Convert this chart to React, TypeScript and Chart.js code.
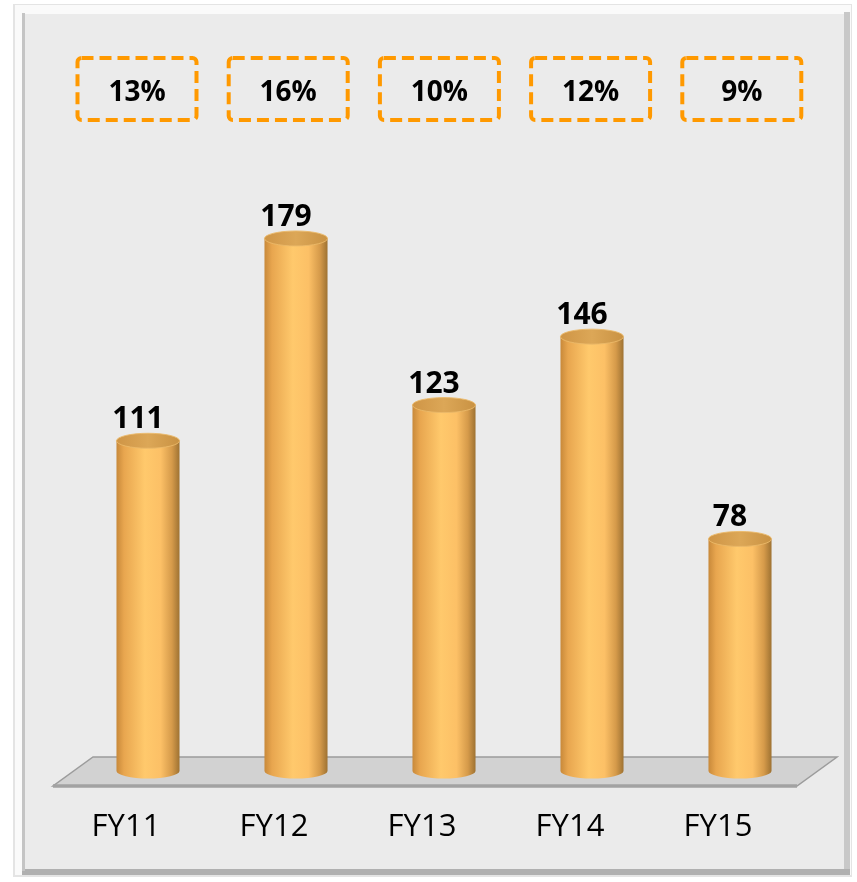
import React, { useEffect, useRef } from "react";
import { Chart, registerables } from "chart.js";

Chart.register(...registerables);

const categories = ["FY11", "FY12", "FY13", "FY14", "FY15"];
const values = [111, 179, 123, 146, 78];
const growthLabels = ["13%", "16%", "10%", "12%", "9%"];

const FONT = "'Open Sans', 'DejaVu Sans', sans-serif";
const RY = 7.5;

const panelPlugin = {
  id: "panel",
  beforeDraw(chart: any) {
    const ctx = chart.ctx;
    const W = chart.width;
    const H = chart.height;
    ctx.save();
    ctx.fillStyle = "#ffffff";
    ctx.fillRect(0, 0, W, H);
    ctx.fillStyle = "#e4e4e4";
    ctx.fillRect(13, 4, 839, 873);
    ctx.fillStyle = "#fafafa";
    ctx.fillRect(15, 5, 836, 870);
    ctx.fillStyle = "#c8c8c8";
    ctx.fillRect(844, 12, 6, 862);
    ctx.fillStyle = "#b0b0b0";
    ctx.fillRect(22, 869, 828, 6);
    ctx.fillStyle = "#c4c4c4";
    ctx.fillRect(22, 13, 3, 858);
    ctx.fillStyle = "#ebebeb";
    ctx.fillRect(25, 14, 819, 855);
    ctx.restore();
  },
  beforeDatasetsDraw(chart: any) {
    const ctx = chart.ctx;
    const a = chart.chartArea;
    const top = a.bottom - 14;
    const bot = a.bottom + 15;
    const xl = a.left - 21;
    const xr = a.right + 23;
    const skew = 40;
    ctx.save();
    ctx.beginPath();
    ctx.moveTo(xl + skew, top);
    ctx.lineTo(xr, top);
    ctx.lineTo(xr - skew, bot);
    ctx.lineTo(xl, bot);
    ctx.closePath();
    ctx.fillStyle = "#d2d2d2";
    ctx.fill();
    ctx.strokeStyle = "#9c9c9c";
    ctx.lineWidth = 1.5;
    ctx.stroke();
    ctx.beginPath();
    ctx.moveTo(xl, bot);
    ctx.lineTo(xr - skew, bot);
    ctx.strokeStyle = "#a2a2a2";
    ctx.lineWidth = 3.5;
    ctx.stroke();
    ctx.restore();
  },
  afterDatasetsDraw(chart: any) {
    const ctx = chart.ctx;
    const meta = chart.getDatasetMeta(0);
    ctx.save();
    meta.data.forEach((bar: any, i: number) => {
      const { x, y, base, width } = bar.getProps(["x", "y", "base", "width"], true);
      const l = x - width / 2;
      const r = x + width / 2;
      const g = ctx.createLinearGradient(l, 0, r, 0);
      g.addColorStop(0, "#c8893a");
      g.addColorStop(0.12, "#e8a64f");
      g.addColorStop(0.45, "#ffc96c");
      g.addColorStop(0.7, "#fcc066");
      g.addColorStop(0.88, "#d59a4a");
      g.addColorStop(1, "#9e7232");
      ctx.beginPath();
      ctx.moveTo(l, y);
      ctx.lineTo(l, base);
      ctx.ellipse(x, base, width / 2, RY, 0, Math.PI, 0, true);
      ctx.lineTo(r, y);
      ctx.closePath();
      ctx.fillStyle = g;
      ctx.fill();
      const tg = ctx.createLinearGradient(l, 0, r, 0);
      tg.addColorStop(0, "#cf9546");
      tg.addColorStop(0.5, "#dca757");
      tg.addColorStop(1, "#c99243");
      ctx.beginPath();
      ctx.ellipse(x, y, width / 2, RY, 0, 0, Math.PI * 2);
      ctx.fillStyle = tg;
      ctx.fill();
      ctx.strokeStyle = "rgba(235,185,105,0.9)";
      ctx.lineWidth = 1;
      ctx.stroke();
      ctx.fillStyle = "#000000";
      ctx.font = `bold 30px ${FONT}`;
      ctx.textAlign = "center";
      ctx.textBaseline = "alphabetic";
      ctx.fillText(String(values[i]), x - 10, y - RY - 5);
      const bx = x - 11 + i * 3.2;
      const bw = 119;
      const bh = 62;
      const by = 58;
      ctx.beginPath();
      ctx.roundRect(bx - bw / 2, by, bw, bh, 4);
      ctx.setLineDash([12, 6]);
      ctx.strokeStyle = "#ff9900";
      ctx.lineWidth = 4;
      ctx.stroke();
      ctx.setLineDash([]);
      ctx.fillStyle = "#000000";
      ctx.font = `bold 28px ${FONT}`;
      ctx.fillText(growthLabels[i], bx, 101);
    });
    ctx.restore();
  },
};

export default function App() {
  const ref = useRef<HTMLCanvasElement>(null);
  useEffect(() => {
    if (!ref.current) return;
    const chart = new Chart(ref.current, {
      type: "bar",
      data: {
        labels: categories,
        datasets: [
          {
            data: values,
            backgroundColor: "rgba(0,0,0,0)",
            borderWidth: 0,
            barPercentage: 0.426,
            categoryPercentage: 1,
          },
        ],
      },
      options: {
        responsive: false,
        animation: false,
        events: [],
        layout: { padding: { top: 176, left: 74, right: 43, bottom: 21 } },
        plugins: {
          legend: { display: false },
          tooltip: { enabled: false },
          title: { display: false },
        },
        scales: {
          x: {
            offset: true,
            grid: { display: false, drawTicks: false },
            border: { display: false },
            ticks: {
              color: "#000000",
              font: { family: FONT, size: 31 },
              padding: 38,
              labelOffset: -22,
              maxRotation: 0,
            },
            afterFit: (scale: any) => {
              scale.height = 90;
            },
          },
          y: {
            display: false,
            min: 0,
            max: 200,
          },
        },
      },
      plugins: [panelPlugin],
    });
    return () => chart.destroy();
  }, []);
  return (
    <div style={{ position: "fixed", left: 0, top: 0, width: 857, height: 882 }}>
      <canvas ref={ref} width={857} height={882} style={{ display: "block" }} />
    </div>
  );
}
